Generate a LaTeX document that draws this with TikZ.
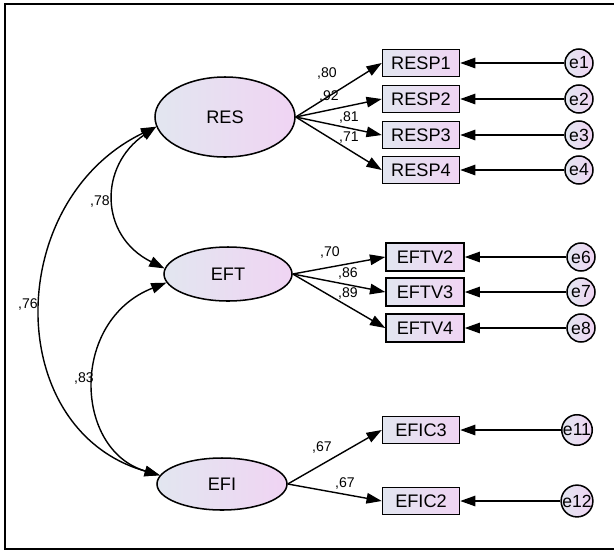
\documentclass[tikz,border=0pt]{standalone}
\usepackage{fontspec}
\setmainfont{Liberation Sans}
\usepackage{tikz}
\usetikzlibrary{arrows.meta}
\usetikzlibrary{shapes.geometric}

\definecolor{fillleft}{RGB}{226,230,240}
\definecolor{fillright}{RGB}{240,212,243}

\begin{document}
\begin{tikzpicture}[x=0.03cm, y=-0.03cm, >={Triangle[length=13pt, width=9pt]},
    latent/.style={ellipse, draw, line width=1.3pt, left color=fillleft, right color=fillright, font=\fontsize{15.5}{17}\selectfont},
    obs/.style={rectangle, draw, line width=1.3pt, left color=fillleft, right color=fillright, minimum width=2.31cm, minimum height=0.81cm, inner sep=0pt, font=\fontsize{15.5}{17}\selectfont},
    err/.style={circle, draw, line width=1.3pt, left color=fillleft, right color=fillright, minimum size=0.84cm, inner sep=0pt, font=\fontsize{15}{17}\selectfont},
    coef/.style={inner sep=0pt, font=\fontsize{12}{14}\selectfont},
    path/.style={->, line width=1.2pt}]
        \useasboundingbox (0,0) rectangle (614,551);
        % frame
        \draw[line width=1.4pt] (616,4) -- (5,4) -- (5,549) -- (616,549);

        % Latent variables
        \node[latent, minimum width=4.2cm, minimum height=2.4cm] (RES) at (225,117) {RES};
        \node[latent, minimum width=3.84cm, minimum height=1.62cm] (EFT) at (228,274) {EFT};
        \node[latent, minimum width=3.9cm, minimum height=1.56cm] (EFI) at (222,484) {EFI};

        % Indicators of RES
        \foreach \i/\y in {1/63,2/99,3/135,4/170} {
            \node[obs] (RESP\i) at (421,\y) {RESP\i};
            \node[err] (e\i) at (579,\y) {e\i};
            \draw[path] (RES.east) -- (RESP\i.west);
            \draw[path] (e\i.west) -- (RESP\i.east);
        }
        \node[coef] (lr1) at (327,73) {,80};
        \node[coef] (lr2) at (329,96) {,92};
        \node[coef] (lr3) at (349,117) {,81};
        \node[coef] (lr4) at (349,138) {,71};

        % Indicators of EFT
        \foreach \i/\k/\y in {2/6/257,3/7/292,4/8/328} {
            \node[obs, minimum width=2.34cm, minimum height=0.84cm] (EFTV\i) at (425,\y) {EFTV\i};
            \node[err] (e\k) at (581,\y) {e\k};
            \draw[path] (EFT.east) -- (EFTV\i.west);
            \draw[path] (e\k.west) -- (EFTV\i.east);
        }
        \node[coef] (lt2) at (330,252) {,70};
        \node[coef] (lt3) at (348,273) {,86};
        \node[coef] (lt4) at (348,293) {,89};

        % Indicators of EFI
        \foreach \i/\k/\y in {3/11/430,2/12/501} {
            \node[obs] (EFIC\i) at (421,\y) {EFIC\i};
            \node[err] (e\k) at (577,\y) {e\k};
            \draw[path] (EFI.east) -- (EFIC\i.west);
            \draw[path] (e\k.west) -- (EFIC\i.east);
        }
        \node[coef] (li3) at (322,447) {,67};
        \node[coef] (li2) at (345,483) {,67};

        % Covariances
        \draw[<->, line width=1.2pt] (RES.188) .. controls +(-57,39) and +(-66,-33) .. (EFT.175);
        \draw[<->, line width=1.2pt] (EFT.188) .. controls +(-97,38) and +(-86,-25) .. (EFI.172);
        \draw[<->, line width=1.2pt] (RES.188) .. controls +(-153,74) and +(-158,-45) .. (EFI.172);
        \node[coef] (c78) at (100,201) {,78};
        \node[coef] (c76) at (28,304) {,76};
        \node[coef] (c83) at (84,378) {,83};
\end{tikzpicture}
\end{document}
